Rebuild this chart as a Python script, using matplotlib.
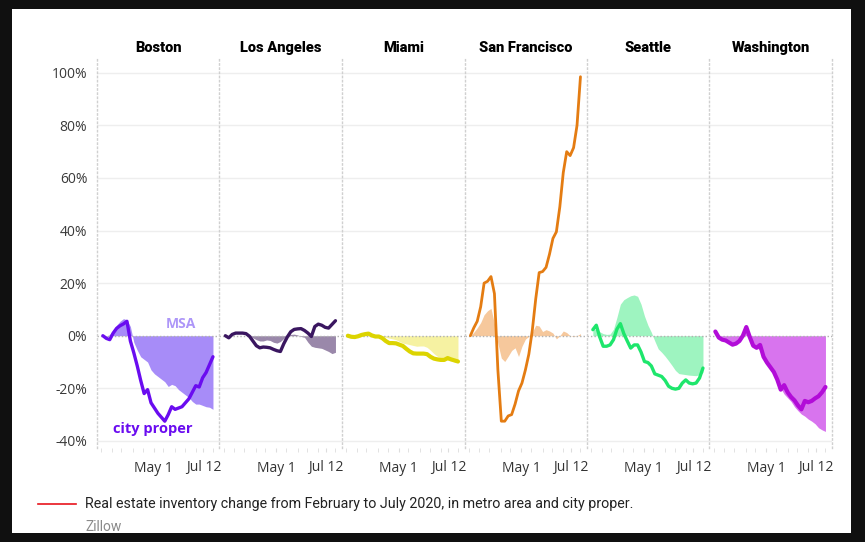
import numpy as np
import pandas as pd
import matplotlib.pyplot as plt
from matplotlib.patches import Rectangle
from matplotlib.lines import Line2D

# 5-day steps, Feb 17 -> Jul 26 2020
dates = pd.date_range('2020-02-17', periods=33, freq='5D')

cities = ['Boston', 'Los Angeles', 'Miami', 'San Francisco', 'Seattle', 'Washington']

boston_city = [0, -1, -1.5, 1, 2.8, 3.8, 4.5, 5.5, -2, -6.5, -11.5, -17, -22, -20.5, -25.5, -27.5,
               -29.5, -31, -32.5, -30, -27, -28, -27.5, -27, -25.5, -24, -21.5, -19, -19.5, -16, -14, -11, -8]
boston_msa = [0, -0.5, 0.5, 2, 4, 5.5, 6.5, 6, 3.5, -2.5, -5.5, -8, -9, -10, -13, -14.5,
              -15.5, -16.5, -17.5, -19.3, -18.5, -19, -20.5, -21.5, -22.5, -23.5, -25, -26, -26, -26.5, -27, -27.2, -28]

la_city = [0, -0.8, 0.5, 1, 1, 1, 0.8, -0.2, -2, -3.8, -4.6, -4.3, -4.4, -4.6, -5.2, -5.7,
           -6, -3, -0.5, 1.5, 2.4, 2.6, 2.7, 2, 1, -0.3, 3.5, 4.4, 4, 3.2, 2.9, 4.3, 5.7]
la_msa = [0, -0.3, 0, 0, 0, 0, 0, 0, -0.8, -1.5, -2, -2, -1.6, -1.8, -2.5, -2.8,
          -2.2, -1, 0.2, 0.5, 0.6, 0.3, -0.3, -0.6, -2.5, -4, -4.4, -4.6, -4.8, -5.4, -6, -6.8, -6.3]

miami_city = [0, -0.4, -0.5, -0.2, 0.3, 0.6, 0.8, 0.1, -0.3, -0.3, -0.9, -2, -2.8, -2.8, -2.9, -3.4,
              -3.9, -5, -6, -6.7, -6.8, -6.8, -6.8, -7, -8, -8.7, -9, -9.2, -9.2, -8.5, -9, -9.4, -9.8]
miami_msa = [0, -0.2, -0.2, 0, 0.2, 0.4, 0.4, 0.1, 0, 0, -0.3, -0.6, -0.9, -1.2, -1.5, -2.2,
             -2.8, -3.1, -3.4, -3.7, -4, -3.9, -3.9, -4.4, -5.5, -6.8, -7.8, -8.5, -9, -9.3, -9.6, -10, -10.3]

sf_city = [0, 3, 5.5, 11, 20, 20.7, 22.5, 16, -13, -32.5, -32.5, -30.5, -30, -26, -21, -18,
           -13, -7, 2, 14, 24, 24.4, 26, 31, 37, 39.5, 49, 62, 70, 68.5, 71.5, 80, 98.5]
sf_msa = [0, 1.3, 3, 5, 8, 9.5, 10.4, 4.5, -3, -8.5, -9.8, -7.8, -5.6, -4.6, -7.9, -4,
          -1.3, -0.2, 1.3, 4, 3.7, 1.6, 2.3, 1.8, 1, -1.2, 0, 1.8, 1.2, 0, -0.3, 0, 0.8]

seattle_city = [2.3, 4, -0.5, -4, -4, -3.5, -1.5, 2.5, 4.6, 0.8, -2, -4.7, -3.5, -3.5, -6.2, -9.8,
                -10.2, -11.5, -14.5, -15, -15.5, -17, -19.2, -20, -20.3, -20, -18, -16.8, -18, -18.3, -18, -16.1, -12.3]
seattle_msa = [2.3, 2.5, 1.5, 0.8, 0.5, 0.6, 2.5, 7, 12, 13.7, 14.5, 15.2, 15.5, 15, 12, 7.5,
               4, 1.3, -2, -5, -6.3, -7.8, -9.5, -11.3, -13.2, -14.4, -14.6, -14.8, -15, -15.1, -15.2, -14.8, -14]

dc_city = [1.6, -0.7, -1.5, -1.8, -2.6, -3.4, -3, -2, 0, 3.3, -0.5, -3.8, -4.6, -3.5, -8, -10.2,
           -12, -13.8, -16.7, -20.5, -18.8, -21.5, -23.3, -24.6, -26.5, -28, -24.8, -25.3, -24.8, -23.8, -23, -21.5, -19.5]
dc_msa = [1, -0.5, -1, -1.5, -2.2, -3, -2.5, -1.5, 0.5, 2.5, 0, -3, -4.5, -5.5, -8.5, -10.8,
          -13, -15, -17.5, -20, -22.2, -23.6, -25, -27, -28.5, -29.8, -30.6, -31.7, -32.5, -33.5, -35, -35.8, -36.4]

city_series = [boston_city, la_city, miami_city, sf_city, seattle_city, dc_city]
msa_series = [boston_msa, la_msa, miami_msa, sf_msa, seattle_msa, dc_msa]

line_colors = ['#6a0cf0', '#3a1660', '#dcd400', '#e47c12', '#1ee66c', '#b20cd8']
fill_colors = ['#a78cf8', '#9a88aa', '#f6f2a2', '#f6c89c', '#9ef4c0', '#d874ee']
line_widths = [2.4, 2.4, 3.0, 2.0, 2.4, 3.0]

yticks = [-40, -20, 0, 20, 40, 60, 80, 100]
major_dates = pd.to_datetime(['2020-05-01', '2020-07-12'])
major_labels = ['May 1', 'Jul 12']
minor_dates = pd.to_datetime(['2020-02-15', '2020-03-01', '2020-03-15', '2020-04-01', '2020-04-15',
                              '2020-05-15', '2020-06-01', '2020-06-15', '2020-07-01', '2020-07-26'])

fig = plt.figure(figsize=(8.65, 5.42), dpi=100, facecolor='#101010')
fig.patches.append(Rectangle((12 / 865, 1 - 533 / 542), 839 / 865, 524 / 542,
                             transform=fig.transFigure, facecolor='white', edgecolor='none', zorder=-1))

left, right, bottom, top = 97 / 865, 832 / 865, 1 - 448 / 542, 1 - 57 / 542
w = (right - left) / 6
x0 = dates[0] - pd.Timedelta(days=8.5)
x1 = dates[-1] + pd.Timedelta(days=9.5)
dotted = (0, (1, 2))
sep_color = '#d0d0d0'

for k, name in enumerate(cities):
    ax = fig.add_axes([left + k * w, bottom, w, top - bottom])
    ax.set_facecolor('none')
    for v in yticks:
        if v == 0:
            continue
        ax.axhline(v, color='#eeeeee', lw=1, zorder=0)
    ax.fill_between(dates, 0, msa_series[k], color=fill_colors[k], lw=0, zorder=1)
    ax.axhline(0, color='#b0b0b0', lw=1, ls=(0, (1, 1.5)), zorder=2)
    ax.plot(dates, city_series[k], color=line_colors[k], lw=line_widths[k], zorder=3,
            solid_joinstyle='round', solid_capstyle='round')

    ax.set_xlim(x0, x1)
    ax.set_ylim(-42.7, 106)
    ax.set_yticks(yticks)
    ax.set_xticks(major_dates)
    ax.set_xticklabels(major_labels)
    ax.set_xticks(minor_dates, minor=True)
    if k == 0:
        ax.set_yticklabels([f'{v}%' for v in yticks])
    else:
        ax.set_yticklabels([])
    ax.tick_params(axis='x', which='both', length=3, color='#dddddd', pad=6,
                   labelsize=10, labelcolor='#333333')
    ax.tick_params(axis='y', length=0, pad=7, labelsize=10, labelcolor='#3a3a3a')
    for lab in ax.get_xticklabels() + ax.get_yticklabels():
        lab.set_family('Open Sans')

    for s in ['top', 'bottom', 'right']:
        ax.spines[s].set_visible(False)
    ax.spines['left'].set_color(sep_color)
    ax.spines['left'].set_linestyle(dotted)
    ax.spines['left'].set_linewidth(1.0)
    if k == 5:
        ax.spines['right'].set_visible(True)
        ax.spines['right'].set_color(sep_color)
        ax.spines['right'].set_linestyle(dotted)
        ax.spines['right'].set_linewidth(1.0)

    ax.set_title(name, fontsize=10.5, fontweight='black', pad=3.5, family='Roboto')

    if k == 0:
        ax.text(pd.Timestamp('2020-06-10'), 4.3, 'MSA', color='#ad96f8', fontsize=10,
                fontweight='bold', family='Open Sans', ha='center', va='center', zorder=4)
        ax.text(pd.Timestamp('2020-04-30'), -35.4, 'city proper', color='#6a0cf0', fontsize=10.5,
                fontweight='bold', family='Open Sans', ha='center', va='center', zorder=4)

fig.add_artist(Line2D([38 / 865, 76 / 865], [1 - 504 / 542] * 2, color='#e8141c', lw=1.2,
                      transform=fig.transFigure))
fig.text(85 / 865, 1 - 504 / 542,
         'Real estate inventory change from February to July 2020, in metro area and city proper.',
         fontsize=10.3, family='Roboto', color='#222222', va='center', ha='left')
fig.text(85 / 865, 1 - 527 / 542, 'Zillow', fontsize=10, family='Roboto', color='#8a8a8a',
         va='center', ha='left')

fig.savefig('out.png', dpi=100, facecolor=fig.get_facecolor())
